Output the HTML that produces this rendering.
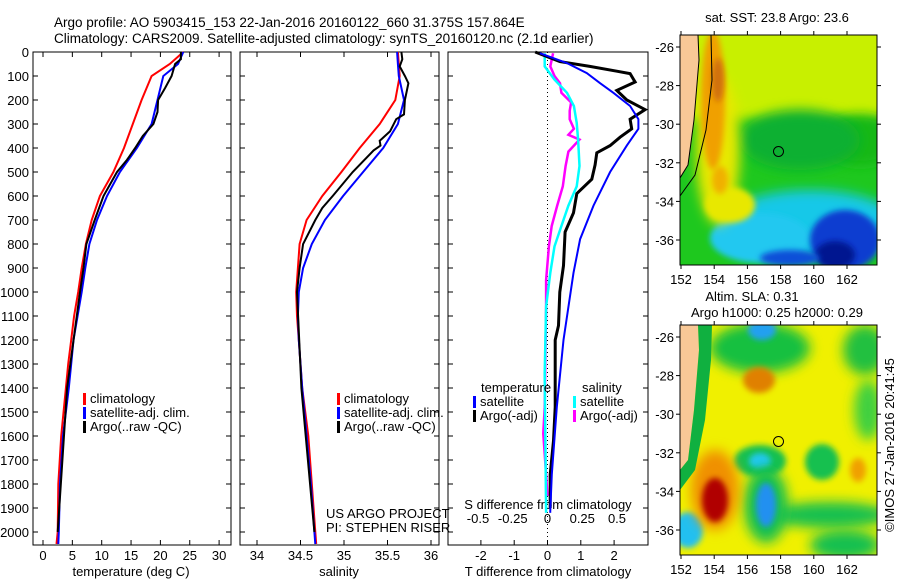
<!DOCTYPE html>
<html><head><meta charset="utf-8"><style>
body{margin:0;background:#fff;}
svg{display:block;font-family:"Liberation Sans",sans-serif;font-size:13px;}
</style></head><body>
<svg id="c" width="900" height="580" xmlns="http://www.w3.org/2000/svg">
<defs>
<filter id="bl" x="-50%" y="-50%" width="200%" height="200%"><feGaussianBlur stdDeviation="6"/></filter>
<filter id="bl2" x="-50%" y="-50%" width="200%" height="200%"><feGaussianBlur stdDeviation="3"/></filter>
<clipPath id="m1"><rect x="680" y="35" width="197" height="230"/></clipPath>
<clipPath id="m2"><rect x="680" y="325" width="197" height="230"/></clipPath>
</defs>
<text x="54" y="27" style="font-size:13.5px">Argo profile: AO 5903415_153 22-Jan-2016 20160122_660 31.375S 157.864E</text>
<text x="54" y="43" style="font-size:13.5px">Climatology: CARS2009. Satellite-adjusted climatology: synTS_20160120.nc (2.1d earlier)</text>

<!-- SST map -->
<g clip-path="url(#m1)">
<rect x="680" y="35" width="197" height="230" fill="#1ec81e"/>
<rect x="660" y="20" width="240" height="100" fill="#c8f000" filter="url(#bl)"/>
<ellipse cx="860" cy="140" rx="40" ry="25" fill="#18b818" filter="url(#bl)"/>
<ellipse cx="800" cy="140" rx="60" ry="30" fill="#10b030" filter="url(#bl)"/>
<ellipse cx="810" cy="225" rx="90" ry="35" fill="#18c8e8" filter="url(#bl)"/>
<ellipse cx="760" cy="238" rx="50" ry="25" fill="#20c8f0" filter="url(#bl2)"/>
<ellipse cx="845" cy="240" rx="35" ry="30" fill="#0a3cd0" filter="url(#bl2)"/>
<ellipse cx="835" cy="255" rx="20" ry="14" fill="#001890" filter="url(#bl2)"/>
<ellipse cx="790" cy="258" rx="30" ry="8" fill="#1050d8" filter="url(#bl2)"/>
<ellipse cx="718" cy="150" rx="22" ry="75" fill="#e8e800" filter="url(#bl)"/>
<ellipse cx="730" cy="205" rx="25" ry="18" fill="#e8e800" filter="url(#bl2)"/>
<ellipse cx="713" cy="100" rx="12" ry="70" fill="#f0a000" filter="url(#bl2)"/>
<ellipse cx="718" cy="80" rx="6" ry="22" fill="#d07010" filter="url(#bl2)"/>
<ellipse cx="720" cy="180" rx="8" ry="14" fill="#f0b000" filter="url(#bl2)"/>
<path d="M680 35 L698 35 L699 60 L694 120 L688 165 L680 178 Z" fill="#f8c896"/>
<path d="M711 35 L712 80 L706 130 L695 175 L680 196" fill="none" stroke="#000" stroke-width="1"/>
<path d="M698 35 L699 60 L694 120 L688 165 L680 178" fill="none" stroke="#000" stroke-width="1"/>
<circle cx="778.5" cy="151.5" r="5" fill="none" stroke="#000"/>
</g>
<rect x="680" y="35" width="197" height="230" fill="none" stroke="#000"/>
<text x="777" y="22" text-anchor="middle">sat. SST: 23.8 Argo: 23.6</text>

<!-- SLA map -->
<g clip-path="url(#m2)">
<rect x="680" y="325" width="197" height="230" fill="#f0f000"/>
<ellipse cx="760" cy="348" rx="50" ry="25" fill="#18c040" filter="url(#bl)"/>
<ellipse cx="762" cy="330" rx="14" ry="10" fill="#20a0f0" filter="url(#bl2)"/>
<ellipse cx="865" cy="350" rx="22" ry="25" fill="#20c040" filter="url(#bl)"/>
<ellipse cx="868" cy="410" rx="14" ry="30" fill="#40d040" filter="url(#bl)"/>
<ellipse cx="760" cy="461" rx="26" ry="16" fill="#18c050" filter="url(#bl2)"/>
<ellipse cx="760" cy="461" rx="11" ry="8" fill="#20c8f0" filter="url(#bl2)"/>
<ellipse cx="822" cy="462" rx="17" ry="18" fill="#18c050" filter="url(#bl2)"/>
<ellipse cx="830" cy="515" rx="60" ry="13" fill="#18c050" filter="url(#bl)"/>
<ellipse cx="766" cy="505" rx="22" ry="38" fill="#18c050" filter="url(#bl)"/>
<ellipse cx="766" cy="505" rx="10" ry="22" fill="#2090f0" filter="url(#bl2)"/>
<ellipse cx="845" cy="545" rx="35" ry="15" fill="#18c050" filter="url(#bl)"/>
<ellipse cx="688" cy="530" rx="15" ry="18" fill="#20c0f0" filter="url(#bl2)"/>
<ellipse cx="715" cy="490" rx="24" ry="40" fill="#f09000" filter="url(#bl)"/>
<ellipse cx="715" cy="500" rx="13" ry="22" fill="#b00000" filter="url(#bl2)"/>
<ellipse cx="759" cy="380" rx="16" ry="13" fill="#e08000" filter="url(#bl2)"/>
<ellipse cx="858" cy="470" rx="8" ry="12" fill="#f0a000" filter="url(#bl2)"/>
<path d="M680 325 L698 325 L699 350 L694 410 L688 460 L680 470 Z" fill="#f8c896"/>
<path d="M698 325 L712 325 L711 360 L705 420 L695 470 L680 490 L680 470 L688 460 L694 410 L699 350 Z" fill="#10b040"/>
<circle cx="778.5" cy="441.5" r="5" fill="none" stroke="#000"/>
</g>
<rect x="680" y="325" width="197" height="230" fill="none" stroke="#000"/>
<text x="752" y="301" text-anchor="middle">Altim. SLA: 0.31</text>
<text x="777" y="317" text-anchor="middle">Argo h1000: 0.25 h2000: 0.29</text>
<text transform="translate(894,445) rotate(-90)" text-anchor="middle">©IMOS 27-Jan-2016 20:41:45</text>
<g id="dyn"></g>
</svg>
<script>
// ---------- data ----------
const tDepth = [0,50,100,200,300,400,500,600,700,800,900,1000,1100,1200,1300,1400,1600,1800,2000,2050];
const tClim  = [23.9,21.6,18.5,16.8,15.3,13.8,12.0,9.7,8.3,7.3,6.6,6.0,5.3,4.8,4.3,3.9,3.1,2.6,2.5,2.3];
const tSat   = [23.9,23.0,20.5,19.5,18.5,16.0,13.1,10.9,9.2,7.9,7.2,6.6,5.9,5.2,4.8,4.4,3.4,2.9,2.7,2.6];
const aDepth = [0,30,50,100,150,200,250,300,350,400,450,500,600,700,800,900,1000,1400,2000];
const tArgo  = [23.5,23.5,22.5,21.9,20.8,19.6,19.5,18.8,17.0,15.7,14.3,12.6,10.3,8.8,7.4,6.9,6.3,4.1,2.5];
const sClim  = [35.62,35.63,35.64,35.59,35.41,35.18,34.97,34.75,34.57,34.49,34.47,34.45,34.46,34.48,34.50,34.52,34.59,34.63,34.67,34.68];
const sSat   = [35.61,35.62,35.63,35.69,35.62,35.45,35.22,34.99,34.78,34.63,34.53,34.48,34.47,34.48,34.50,34.52,34.57,34.62,34.66,34.67];
const sDepthA= [0,30,60,100,130,200,260,280,330,370,390,410,500,600,650,700,800,900,1000,1400,2000];
const sArgo  = [35.66,35.67,35.64,35.70,35.74,35.70,35.69,35.60,35.53,35.41,35.42,35.34,35.10,34.87,34.75,34.67,34.53,34.49,34.46,34.51,34.66];
const dtSatDepth = [5,46,88,130,170,225,280,320,390,500,640,780,920,1060,1200,1480,1760,1920];
const dtSat  = [-0.23,0.58,1.18,1.58,1.98,2.48,2.73,2.73,2.38,1.88,1.38,0.98,0.78,0.63,0.48,0.28,0.13,0.08];
const dtArgoDepth = [0,40,60,80,90,125,160,200,240,280,320,355,390,420,470,530,590,670,750,890,1000,1140,1200,1480,1620,1760,1900];
const dtArgo = [-0.37,0.37,1.27,2.08,2.48,2.63,2.08,2.38,2.93,2.48,2.53,2.18,1.88,1.48,1.43,1.33,0.88,0.78,0.53,0.48,0.37,0.33,0.23,0.23,0.18,0.08,0.08];
const dsSatDepth = [5,60,115,170,225,295,365,475,560,640,725,810,920,1060,1340,1920];
const dsSat  = [-0.02,-0.02,0.05,0.14,0.19,0.21,0.22,0.23,0.21,0.15,0.10,0.05,0.02,-0.01,-0.02,-0.01];
const dsArgoDepth = [5,60,100,130,170,210,245,280,320,345,365,415,475,560,640,725,810,950,1060,1480,1590,1760,1850];
const dsArgo = [0.04,0.02,0.05,0.09,0.10,0.17,0.16,0.16,0.19,0.15,0.23,0.15,0.13,0.11,0.07,0.03,0.01,-0.01,-0.01,-0.02,-0.03,-0.01,0.0];
const depthTicks = [0,100,200,300,400,500,600,700,800,900,1000,1100,1200,1300,1400,1500,1600,1700,1800,1900,2000];
const tTicks = [0,5,10,15,20,25,30];
const sTicks = [34,34.5,35,35.5,36];
const sTickLabels = ["34","34.5","35","35.5","36"];
const dTTicks = [-2,-1,0,1,2];
const dSTicks = [-0.5,-0.25,0,0.25,0.5];
const dSTickLabels = ["-0.5","-0.25","0","0.25","0.5"];
const lonTicks = [152,154,156,158,160,162];
const latTicks = [-26,-28,-30,-32,-34,-36];

// ---------- scales ----------
const NS="http://www.w3.org/2000/svg";
const g=document.getElementById('dyn');
const yD = d => 52 + d*0.24;
const xT = v => 43 + v*5.87;
const xS = v => 257 + (v-34)*87;
const xdT = v => 547.5 + v*33.3;
const xdS = v => 547.5 + v*139;
const lonX = v => 681 + (v-152)*16.6;
const latY1 = v => 47 + (-26 - v)*19.3;
const latY2 = v => 337 + (-26 - v)*19.3;
function el(tag,attrs,txt){const e=document.createElementNS(NS,tag);for(const k in attrs)e.setAttribute(k,attrs[k]);if(txt!==undefined)e.textContent=txt;g.appendChild(e);return e;}
function line(xs,ds,xf,col,w,name){
  const p=xs.map((v,i)=>xf(v).toFixed(1)+','+yD(ds[i]).toFixed(1)).join(' ');
  const e=el('polyline',{points:p,fill:'none',stroke:col,'stroke-width':w});
  
  
}
// panels
const panels=[[33,231,'temperature-panel'],[240,439,'salinity-panel'],[448,648,'difference-panel']];
panels.forEach(p=>{
  const r=el('rect',{x:p[0],y:52,width:p[1]-p[0],height:493,fill:'none',stroke:'#000'});
  
  
  depthTicks.forEach(d=>{el('line',{x1:p[0],x2:p[0]+5,y1:yD(d),y2:yD(d),stroke:'#000'});el('line',{x1:p[1],x2:p[1]-5,y1:yD(d),y2:yD(d),stroke:'#000'});});
});
depthTicks.forEach(d=>{
  const t=el('text',{x:29,y:yD(d)+5,'text-anchor':'end'},String(d));
  
  
});
tTicks.forEach(v=>{el('line',{x1:xT(v),x2:xT(v),y1:545,y2:540,stroke:'#000'});el('line',{x1:xT(v),x2:xT(v),y1:52,y2:57,stroke:'#000'});
  const t=el('text',{x:xT(v),y:560,'text-anchor':'middle'},String(v));
  
  });
sTicks.forEach((v,i)=>{el('line',{x1:xS(v),x2:xS(v),y1:545,y2:540,stroke:'#000'});el('line',{x1:xS(v),x2:xS(v),y1:52,y2:57,stroke:'#000'});
  const t=el('text',{x:xS(v),y:560,'text-anchor':'middle'},sTickLabels[i]);
  
  });
dTTicks.forEach(v=>{el('line',{x1:xdT(v),x2:xdT(v),y1:545,y2:540,stroke:'#000'});
  const t=el('text',{x:xdT(v),y:560,'text-anchor':'middle'},String(v));
  
  });
dSTicks.forEach((v,i)=>{
  const t=el('text',{x:xdS(v),y:523,'text-anchor':'middle'},dSTickLabels[i]);
  
  });
[['temperature (deg C)',131,'temperature-axis-title'],['salinity',339,'salinity-axis-title'],['T difference from climatology',548,'t-diff-axis-title']].forEach(a=>{
  const t=el('text',{x:a[1],y:576,'text-anchor':'middle'},a[0]);
  
  });
const st=el('text',{x:548,y:509,'text-anchor':'middle'},'S difference from climatology');


el('line',{x1:547.5,x2:547.5,y1:52,y2:545,stroke:'#000','stroke-dasharray':'1,3'});

// series
line(tClim,tDepth,xT,'#f00',2,'temperature-climatology-line');
line(tSat,tDepth,xT,'#00f',2,'temperature-satellite-line');
line(tArgo,aDepth,xT,'#000',2,'temperature-argo-line');
line(sClim,tDepth,xS,'#f00',2,'salinity-climatology-line');
line(sSat,tDepth,xS,'#00f',2,'salinity-satellite-line');
line(sArgo,sDepthA,xS,'#000',2,'salinity-argo-line');
line(dsArgo,dsArgoDepth,xdS,'#f0f',2.5,'salinity-argo-diff-line');
line(dsSat,dsSatDepth,xdS,'#0ff',2.5,'salinity-satellite-diff-line');
line(dtArgo,dtArgoDepth,xdT,'#000',3,'temperature-argo-diff-line');
line(dtSat,dtSatDepth,xdT,'#00f',2,'temperature-satellite-diff-line');

// legends
function leg(x,y,col,txt,name){
  el('rect',{x:x,y:y-10,width:3,height:12,fill:col});
  const t=el('text',{x:x+7,y:y},txt);
  
  
}
leg(83,403,'#f00','climatology','temp-legend-climatology');
leg(83,417,'#00f','satellite-adj. clim.','temp-legend-satellite');
leg(83,431,'#000','Argo(..raw -QC)','temp-legend-argo');
leg(337,403,'#f00','climatology','sal-legend-climatology');
leg(337,417,'#00f','satellite-adj. clim.','sal-legend-satellite');
leg(337,431,'#000','Argo(..raw -QC)','sal-legend-argo');
const tl=el('text',{x:481,y:392},'temperature');
const sl=el('text',{x:582,y:392},'salinity');
leg(473,406,'#00f','satellite','diff-legend-t-satellite');
leg(473,420,'#000','Argo(-adj)','diff-legend-t-argo');
leg(573,406,'#0ff','satellite','diff-legend-s-satellite');
leg(573,420,'#f0f','Argo(-adj)','diff-legend-s-argo');
const u1=el('text',{x:326,y:518},'US ARGO PROJECT');
const u2=el('text',{x:326,y:532},'PI: STEPHEN RISER');

// map axes
[[latY1,35,265,280],[latY2,325,555,570]].forEach(m=>{
  lonTicks.forEach(v=>{el('line',{x1:lonX(v),x2:lonX(v),y1:m[2],y2:m[2]+4,stroke:'#000'});el('line',{x1:lonX(v),x2:lonX(v),y1:m[1],y2:m[1]-4,stroke:'#000'});
    const t=el('text',{x:lonX(v),y:m[3]+4,'text-anchor':'middle'},String(v));
    
    });
  latTicks.forEach(v=>{el('line',{x1:676,x2:680,y1:m[0](v),y2:m[0](v),stroke:'#000'});el('line',{x1:877,x2:881,y1:m[0](v),y2:m[0](v),stroke:'#000'});
    const t=el('text',{x:674,y:m[0](v)+5,'text-anchor':'end'},String(v));
    
    });
});
</script>
</body></html>
